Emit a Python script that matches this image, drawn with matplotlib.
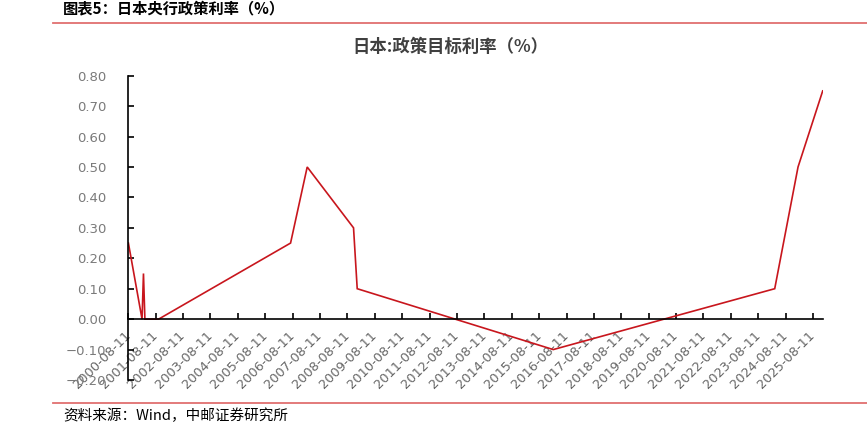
import matplotlib
matplotlib.use("Agg")
import matplotlib.pyplot as plt
import matplotlib.dates as mdates
from matplotlib.lines import Line2D
from matplotlib.ticker import FixedLocator, FuncFormatter
import datetime as dt

plt.rcParams['font.family'] = ['Noto Sans CJK SC', 'DejaVu Sans']

# ---- data ----
dates = ["2000-08-11", "2001-02-09", "2001-02-28", "2001-03-19", "2001-09-18",
         "2006-07-14", "2007-02-21", "2008-10-31", "2008-12-19", "2016-02-16",
         "2024-03-19", "2025-01-24", "2025-12-19"]
rates = [0.25, 0.00, 0.15, 0.00, 0.00,
         0.25, 0.50, 0.30, 0.10, -0.10,
         0.10, 0.50, 0.75]
tick_years = list(range(2000, 2026))
y_ticks = [-0.20, -0.10, 0.00, 0.10, 0.20, 0.30, 0.40, 0.50, 0.60, 0.70, 0.80]

fig_title = "图表5：日本央行政策利率（%）"
chart_title = "日本:政策目标利率（%）"
source = "资料来源：Wind，中邮证券研究所"

x = [dt.datetime.strptime(d, "%Y-%m-%d") for d in dates]
xt = [dt.datetime(y, 8, 11) for y in tick_years]

W, H = 867, 424
fig = plt.figure(figsize=(W / 100, H / 100), dpi=100)
ax = fig.add_axes([128.4 / W, 1 - 380 / H, (822.7 - 128.4) / W, (380 - 75.7) / H])

ax.plot(x, rates, color="#C8161D", lw=1.2, solid_joinstyle="miter")

ax.set_xlim(x[0], x[-1])
ax.set_ylim(-0.2, 0.8)

for s in ["top", "right"]:
    ax.spines[s].set_visible(False)
ax.spines["bottom"].set_position(("data", 0))
for s in ["bottom", "left"]:
    ax.spines[s].set_linewidth(1.2)
    ax.spines[s].set_color("black")

ax.xaxis.set_major_locator(FixedLocator(mdates.date2num(xt)))
ax.xaxis.set_major_formatter(mdates.DateFormatter("%Y-%m-%d"))
ax.yaxis.set_major_locator(FixedLocator(y_ticks))
ax.yaxis.set_major_formatter(FuncFormatter(lambda v, p: f"{v:.2f}".replace("-", "\u2212")))

ax.tick_params(axis="x", direction="in", length=4, width=1.2, color="black",
               labelsize=9.3, labelcolor="#666666", pad=10)
ax.tick_params(axis="y", direction="in", length=4, width=1.2, color="black",
               labelsize=9.5, labelcolor="#7a7a7a", pad=16)
for lab in ax.get_xticklabels():
    lab.set_rotation(45)
    lab.set_ha("right")
    lab.set_va("center")
    lab.set_rotation_mode("anchor")
    lab.set_family("DejaVu Sans")
for lab in ax.get_yticklabels():
    lab.set_family("DejaVu Sans")

# titles and decorations
fig.text(63 / W, 1 - 8 / H, fig_title, fontsize=11, fontweight="bold",
         ha="left", va="center", color="black")
fig.add_artist(Line2D([53 / W, 1.0], [1 - 22.7 / H, 1 - 22.7 / H],
                      color="#E07070", lw=1.3, transform=fig.transFigure))
fig.text(450 / W, 1 - 47 / H, chart_title, fontsize=12.5, fontweight="bold",
         ha="center", va="center", color="#404040")
fig.add_artist(Line2D([53 / W, 1.0], [1 - 403.3 / H, 1 - 403.3 / H],
                      color="#E07070", lw=1.3, transform=fig.transFigure))
fig.text(63 / W, 1 - 416 / H, source, fontsize=10.5, ha="left", va="center",
         color="black")

fig.savefig("out.png", dpi=100)
